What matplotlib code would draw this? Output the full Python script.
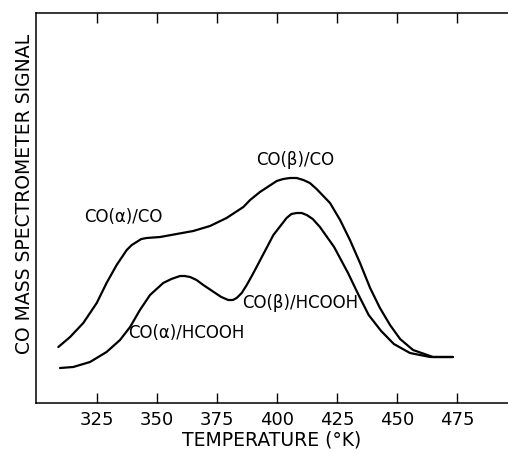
import matplotlib
matplotlib.use("Agg")
import matplotlib.pyplot as plt

# CO(alpha)/CO , CO(beta)/CO curve (CO adsorption)
t_co = [308.9, 313.8, 319.3, 324.9, 329.0, 333.2, 337.4, 339.5, 343.5, 345.7,
        351.3, 358.2, 365.1, 372.1, 379.0, 386.0, 388.8, 392.9, 399.9, 402.6,
        405.4, 408.2, 411.0, 413.7, 416.5, 422.1, 426.3, 430.4, 434.6, 438.8,
        442.9, 447.1, 451.3, 456.7, 465.0, 473.3]
sig_co = [56, 66, 80, 100, 120, 138, 153, 158, 164, 165,
          166, 169, 172, 177, 185, 196, 203, 211, 222, 224,
          225, 225, 223, 220, 214, 200, 183, 163, 140, 115,
          95, 78, 64, 53, 46, 46]

# HCOOH decomposition curve
t_hcooh = [309.6, 315.1, 322.1, 329.0, 334.6, 338.8, 342.9, 347.1, 352.6, 356.0,
           359.6, 361.5, 363.8, 366.5, 369.3, 374.9, 376.8, 379.7, 381.6, 383.2,
           385.3, 387.4, 389.5, 391.5, 398.5, 404.0, 406.0, 408.2, 410.3, 412.4,
           414.9, 417.9, 423.8, 429.6, 434.0, 438.2, 443.4, 448.7, 455.4, 463.8,
           473.3]
sig_hcooh = [35, 36, 41, 51, 63, 76, 93, 108, 120, 124,
             127, 127, 126, 123, 118, 109, 106, 103, 103, 105,
             110, 118, 127, 136, 168, 185, 189, 190, 190, 188,
             184, 176, 156, 130, 108, 88, 72, 59, 50, 46,
             46]

xticks = [325, 350, 375, 400, 425, 450, 475]

fig = plt.figure(figsize=(5.08, 4.53), dpi=100)
ax = fig.add_axes([36 / 508, 50 / 453, 472 / 508, 390 / 453])

ax.plot(t_co, sig_co, color="black", lw=1.6, solid_joinstyle="round",
        solid_capstyle="round")
ax.plot(t_hcooh, sig_hcooh, color="black", lw=1.6, solid_joinstyle="round",
        solid_capstyle="round")

ax.set_xlim(299.6, 496.25)
ax.set_ylim(0, 390)
ax.set_xticks(xticks)
ax.set_yticks([])
ax.tick_params(axis="x", direction="in", length=7, width=1, top=True,
               labelsize=13, pad=6)
ax.spines["right"].set_visible(False)
for s in ["left", "top", "bottom"]:
    ax.spines[s].set_linewidth(1.1)

ax.set_xlabel("TEMPERATURE (°K)", fontsize=13.5, labelpad=1)
fig.text(25 / 508, (453 - 194) / 453, "CO MASS SPECTROMETER SIGNAL",
         rotation=90, ha="center", va="center", fontsize=13.5)

ax.text(335.8, 186, "CO(α)/CO", fontsize=12, ha="center", va="center")
ax.text(407.5, 243, "CO(β)/CO", fontsize=12, ha="center", va="center")
ax.text(409.5, 100, "CO(β)/HCOOH", fontsize=12, ha="center", va="center")
ax.text(362.3, 70, "CO(α)/HCOOH", fontsize=12, ha="center", va="center")

fig.savefig("out.png", dpi=100)
